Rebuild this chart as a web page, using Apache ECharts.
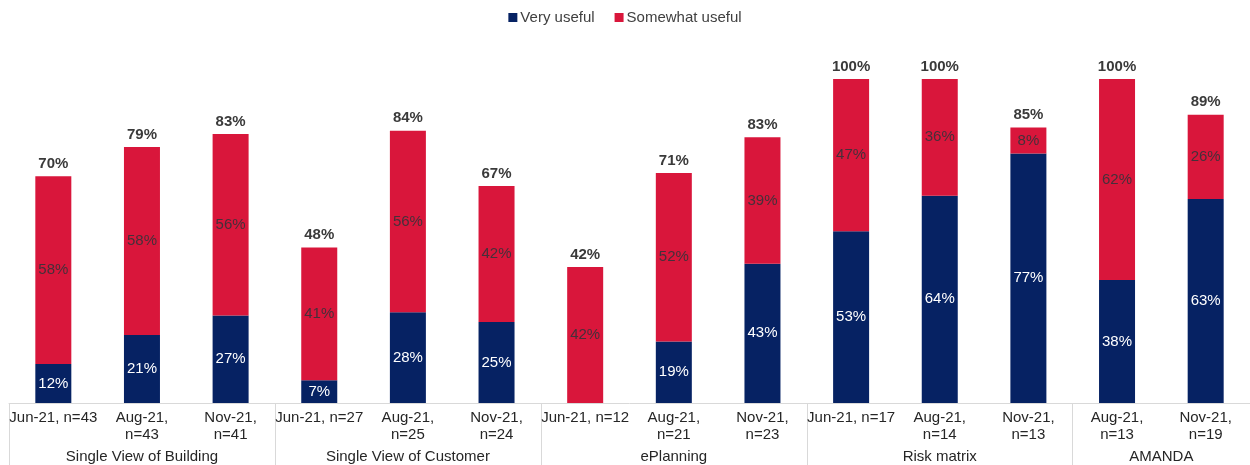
<!DOCTYPE html>
<html>
<head>
<meta charset="utf-8">
<script src="https://cdn.jsdelivr.net/npm/echarts@6/dist/echarts.min.js"></script>
<style>
  html, body { margin: 0; padding: 0; background: #fff; }
  #main { width: 1250px; height: 465px; }
</style>
</head>
<body>
<div id="main"></div>
<script>
// bar labels (one per bar)
const categories = [
  'Jun-21, n=43', 'Aug-21,\nn=43', 'Nov-21,\nn=41',
  'Jun-21, n=27', 'Aug-21,\nn=25', 'Nov-21,\nn=24',
  'Jun-21, n=12', 'Aug-21,\nn=21', 'Nov-21,\nn=23',
  'Jun-21, n=17', 'Aug-21,\nn=14', 'Nov-21,\nn=13',
  'Aug-21,\nn=13', 'Nov-21,\nn=19'
]
const groups = ['Single View of Building', 'Single View of Customer', 'ePlanning', 'Risk matrix', 'AMANDA']
const groupCenters = [1.5, 4.5, 7.5, 10.5, 13]
const groupEdges = [0, 3, 6, 9, 12, 14]

const veryUseful = [12, 21, 27, 7, 28, 25, 0, 19, 43, 53, 64, 77, 38, 63]
const somewhatUseful = [58, 58, 56, 41, 56, 42, 42, 52, 39, 47, 36, 8, 62, 26]
const totals = [70, 79, 83, 48, 84, 67, 42, 71, 83, 100, 100, 85, 100, 89]

const navy = '#062263'
const red = '#d9163b'
const font = 'Liberation Sans, Arial, sans-serif'

const chart = echarts.init(document.getElementById('main'))

const option = {
  animation: false,
  textStyle: { fontFamily: font },
  legend: {
    data: ['Very useful', 'Somewhat useful'],
    top: 5,
    left: 'center',
    itemWidth: 9,
    itemHeight: 9,
    itemGap: 20,
    icon: 'rect',
    textStyle: { fontSize: 15, color: '#404040', fontFamily: font, padding: [0, 0, 0, -2] }
  },
  grid: { left: 9, right: -5, top: 79, bottom: 62 },
  xAxis: [
    {
      type: 'category',
      data: categories,
      axisLine: { lineStyle: { color: '#d9d9d9', width: 1 } },
      axisTick: { show: false },
      axisLabel: {
        interval: 0,
        margin: 6,
        fontSize: 15,
        lineHeight: 17,
        color: '#262626',
        fontFamily: font
      }
    },
    {
      type: 'value',
      position: 'bottom',
      min: 0,
      max: 14,
      interval: 0.5,
      axisLine: { show: false },
      splitLine: { show: false },
      axisTick: {
        show: true,
        customValues: groupEdges,
        length: 62,
        lineStyle: { color: '#d9d9d9', width: 1 }
      },
      axisLabel: {
        customValues: groupCenters,
        margin: 45,
        fontSize: 15,
        lineHeight: 17,
        color: '#262626',
        fontFamily: font,
        formatter: function (v) {
          const i = groupCenters.indexOf(v)
          return i >= 0 ? groups[i] : ''
        }
      }
    }
  ],
  yAxis: {
    type: 'value',
    min: 0,
    max: 100,
    show: false,
    splitLine: { show: false }
  },
  series: [
    {
      name: 'Very useful',
      type: 'bar',
      stack: 'a',
      barWidth: 36,
      data: veryUseful,
      itemStyle: { color: navy },
      label: {
        show: true,
        position: 'inside',
        color: '#ffffff',
        fontSize: 15,
        fontFamily: font,
        formatter: p => (p.value ? p.value + '%' : '')
      }
    },
    {
      name: 'Somewhat useful',
      type: 'bar',
      stack: 'a',
      barWidth: 36,
      data: somewhatUseful,
      itemStyle: { color: red },
      label: {
        show: true,
        position: 'inside',
        color: '#45303a',
        fontSize: 15,
        fontFamily: font,
        formatter: p => (p.value ? p.value + '%' : '')
      }
    },
    {
      name: 'Total',
      type: 'bar',
      stack: 'a',
      barWidth: 36,
      data: totals.map(() => 0),
      itemStyle: { color: 'transparent' },
      label: {
        show: true,
        position: 'top',
        distance: 5,
        color: '#3a3a3a',
        fontWeight: 'bold',
        fontSize: 15,
        fontFamily: font,
        formatter: p => totals[p.dataIndex] + '%'
      }
    }
  ]
}

chart.setOption(option)
</script>
</body>
</html>
